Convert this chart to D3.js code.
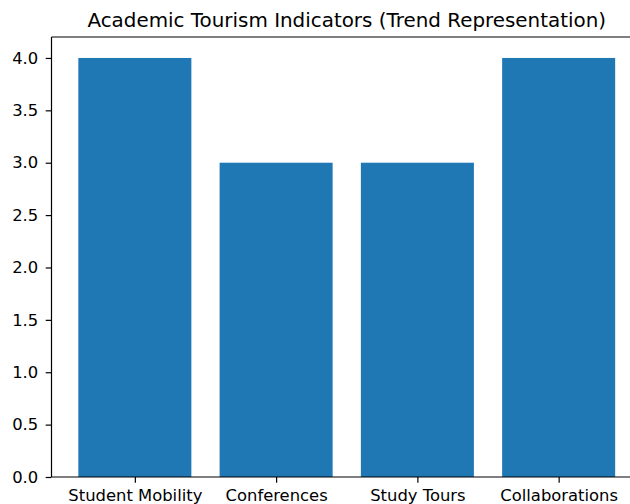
<!DOCTYPE html>
<html>
<head>
<meta charset="utf-8">
<script src="https://cdn.jsdelivr.net/npm/d3@7"></script>
<style>
  html, body { margin: 0; padding: 0; background: #fff; }
  svg { display: block; }
  text { font-family: "DejaVu Sans", sans-serif; }
</style>
</head>
<body>
<svg id="chart" width="630" height="504"></svg>
<script>
const categories = ["Student Mobility", "Conferences", "Study Tours", "Collaborations"];
const values = [4, 3, 3, 4];
const yTicks = [0, 0.5, 1.0, 1.5, 2.0, 2.5, 3.0, 3.5, 4.0];
const chartTitle = "Academic Tourism Indicators (Trend Representation)";

(function () {
const svg = d3.select("#chart");
const pLeft = 51.5, pRight = 642, pTop = 37, pBottom = 477;
const barWidth = 0.8;
const tickFont = "16.4px";

const x = d3.scaleLinear().domain([-0.59, categories.length - 1 + 0.59]).range([pLeft, pRight]);
const y = d3.scaleLinear().domain([0, 4.2]).range([pBottom, pTop]);

svg.append("g").selectAll("rect")
  .data(values)
  .join("rect")
  .attr("x", (d, i) => x(i - barWidth / 2))
  .attr("width", (d, i) => x(i + barWidth / 2) - x(i - barWidth / 2))
  .attr("y", d => y(d))
  .attr("height", d => y(0) - y(d))
  .attr("fill", "#1f77b4");

const spine = svg.append("g").attr("stroke", "#000").attr("stroke-width", 1.2).attr("fill", "none");
spine.append("line").attr("x1", pLeft).attr("x2", pLeft).attr("y1", pTop).attr("y2", pBottom);
spine.append("line").attr("x1", pRight).attr("x2", pRight).attr("y1", pTop).attr("y2", pBottom);
spine.append("line").attr("x1", pLeft).attr("x2", pRight).attr("y1", pTop).attr("y2", pTop);
spine.append("line").attr("x1", pLeft).attr("x2", pRight).attr("y1", pBottom).attr("y2", pBottom);

const yAxis = d3.axisLeft(y).tickValues(yTicks).tickFormat(d3.format(".1f")).tickSize(5.8).tickPadding(7.5);
const gy = svg.append("g").attr("transform", `translate(${pLeft},0)`).call(yAxis);
gy.select(".domain").remove();
gy.selectAll(".tick line").attr("stroke", "#000").attr("stroke-width", 1.2);
gy.selectAll(".tick text").attr("font-size", tickFont).attr("fill", "#000").attr("font-family", "DejaVu Sans, sans-serif");

const xAxis = d3.axisBottom(x).tickValues(d3.range(categories.length)).tickFormat(i => categories[i]).tickSize(5.8).tickPadding(7);
const gx = svg.append("g").attr("transform", `translate(0,${pBottom})`).call(xAxis);
gx.select(".domain").remove();
gx.selectAll(".tick line").attr("stroke", "#000").attr("stroke-width", 1.2);
gx.selectAll(".tick text").attr("font-size", tickFont).attr("fill", "#000").attr("font-family", "DejaVu Sans, sans-serif");

svg.append("text")
  .attr("x", (pLeft + pRight) / 2)
  .attr("y", 26.5)
  .attr("text-anchor", "middle")
  .attr("font-size", "19.9px")
  .attr("fill", "#000")
  .text(chartTitle);
})();
</script>
</body>
</html>
